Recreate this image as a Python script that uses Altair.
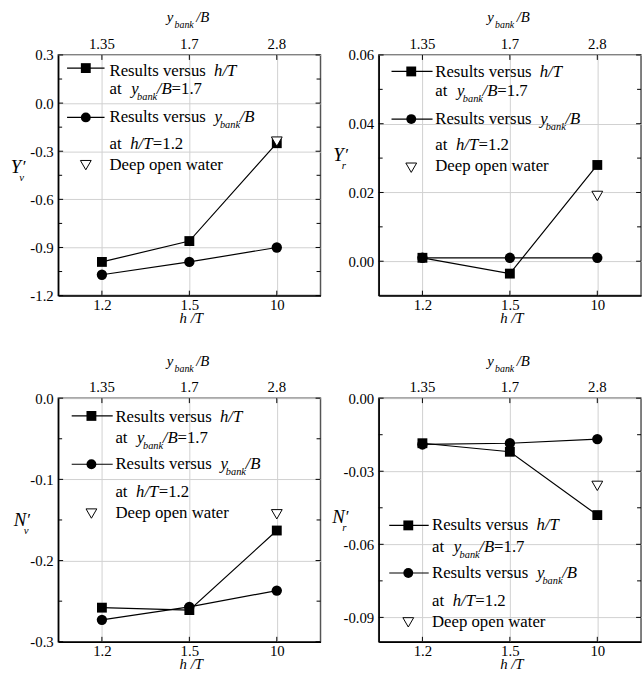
import altair as alt
import pandas as pd

# ---------------- data ----------------
h_cats = ["1.2", "1.5", "10"]
ybank_labels = ["1.35", "1.7", "2.8"]

Yv_sq = [-0.99, -0.86, -0.25]
Yv_ci = [-1.07, -0.99, -0.90]
Yv_deep = [-0.24]

Yr_sq = [0.001, -0.0036, 0.028]
Yr_ci = [0.001, 0.001, 0.001]
Yr_deep = [0.019]

Nv_sq = [-0.258, -0.261, -0.163]
Nv_ci = [-0.273, -0.257, -0.237]
Nv_deep = [-0.143]

Nr_sq = [-0.0185, -0.022, -0.048]
Nr_ci = [-0.019, -0.0185, -0.0168]
Nr_deep = [-0.036]

Yv_major = [-1.2, -0.9, -0.6, -0.3, 0.0, 0.3]
Yv_minor = [-1.05, -0.75, -0.45, -0.15, 0.15]
Yr_major = [0.0, 0.02, 0.04, 0.06]
Yr_minor = [0.01, 0.03, 0.05]
Nv_major = [-0.3, -0.2, -0.1, 0.0]
Nv_minor = [-0.25, -0.15, -0.05]
Nr_major = [-0.09, -0.06, -0.03, 0.0]
Nr_minor = [-0.075, -0.045, -0.015]

FONT = "'Liberation Serif', 'Times New Roman', Times, serif"
W = 266
dummy = pd.DataFrame({"d": [0]})


def txt(x, y, s, size=17, italic=False, align="left"):
    return alt.Chart(dummy).mark_text(
        text=s, font=FONT, fontSize=size,
        fontStyle="italic" if italic else "normal",
        align=align, baseline="alphabetic", color="black",
    ).encode(x=alt.value(x), y=alt.value(y))


def legend(lx1, lx2, mx, tx, rows):
    sq_y, t1, t2, ci_y, t3, t4, tri_y, t5 = rows
    L = []
    for yy, shape in [(sq_y, "square"), (ci_y, "circle")]:
        L.append(alt.Chart(dummy).mark_rule(color="black", strokeWidth=1.2).encode(
            x=alt.value(lx1), x2=alt.value(lx2), y=alt.value(yy)))
        L.append(alt.Chart(dummy).mark_point(shape=shape, filled=True, size=100, color="black", opacity=1).encode(
            x=alt.value(mx), y=alt.value(yy)))
    L.append(alt.Chart(dummy).mark_point(shape="triangle-down", filled=False, size=120, color="black",
                                         fill="white", fillOpacity=1, strokeWidth=1, opacity=1).encode(
        x=alt.value(mx), y=alt.value(tri_y)))
    # row 1
    L.append(txt(tx, t1, "Results versus"))
    L.append(txt(tx + 106, t1, "h/T", italic=True))
    # row 2
    L.append(txt(tx, t2, "at"))
    L.append(txt(tx + 22, t2, "y", italic=True))
    L.append(txt(tx + 28, t2 + 6, "bank", size=10.5, italic=True))
    L.append(txt(tx + 48, t2, "/B", italic=True))
    L.append(txt(tx + 63, t2, "=1.7"))
    # row 3
    L.append(txt(tx, t3, "Results versus"))
    L.append(txt(tx + 106.5, t3, "y", italic=True))
    L.append(txt(tx + 112, t3 + 6, "bank", size=10.5, italic=True))
    L.append(txt(tx + 132, t3, "/B", italic=True))
    # row 4
    L.append(txt(tx, t4, "at"))
    L.append(txt(tx + 21, t4, "h/T", italic=True))
    L.append(txt(tx + 44, t4, "=1.2"))
    # row 5
    L.append(txt(tx, t5, "Deep open water"))
    return L


def panel(sq, ci, deep, dom, major, minor, fmt, H, ylet, ysub, ypos, leg):
    df_sq = pd.DataFrame({"h": h_cats, "val": sq})
    df_ci = pd.DataFrame({"h": h_cats, "val": ci})
    df_tri = pd.DataFrame({"h": [h_cats[-1]], "val": deep})
    cats = pd.DataFrame({"h": h_cats, "top": ybank_labels})
    df_major = pd.DataFrame({"v": major})
    df_minor = pd.DataFrame({"v": minor})

    xsc = alt.Scale(type="point", padding=0.5, domain=h_cats)
    ysc = alt.Scale(domain=dom, nice=False, zero=False)
    yax = alt.Axis(values=major, grid=True, ticks=False, domain=True, title=None,
                   labelPadding=5,
                   labelExpr=f"replace(format(datum.value, '{fmt}'), '\u2212', '-')")
    xax = alt.Axis(orient="bottom", grid=True, ticks=False, domain=True, labelPadding=2,
                   labelAngle=0, title=None)

    def X():
        return alt.X("h:N", sort=h_cats, scale=xsc, axis=xax, title=None)

    def Y(field):
        return alt.Y(f"{field}:Q", scale=ysc, axis=yax, title=None)

    layers = []
    # bottom inward ticks
    layers.append(alt.Chart(cats).mark_rule(color="black", strokeWidth=1).encode(
        x=X(), y=alt.value(H), y2=alt.value(H - 5)))
    # top inward ticks
    layers.append(alt.Chart(cats).mark_rule(color="black", strokeWidth=1).encode(
        x=X(), y=alt.value(0), y2=alt.value(5)))
    # top tick labels
    layers.append(alt.Chart(cats).mark_text(font=FONT, fontSize=15, color="black",
                                            baseline="alphabetic", align="center").encode(
        x=X(), y=alt.value(-6), text="top:N"))
    # y ticks left/right
    for d, ln in [(df_major, 5), (df_minor, 4)]:
        layers.append(alt.Chart(d).mark_rule(color="black", strokeWidth=1).encode(
            y=Y("v"), x=alt.value(0), x2=alt.value(ln)))
        layers.append(alt.Chart(d).mark_rule(color="black", strokeWidth=1).encode(
            y=Y("v"), x=alt.value(W), x2=alt.value(W - ln)))
    # data
    for d in [df_sq, df_ci]:
        layers.append(alt.Chart(d).mark_line(color="black", strokeWidth=1.2).encode(
            x=X(), y=Y("val")))
    layers.append(alt.Chart(df_sq).mark_point(shape="square", filled=True, size=100,
                                              color="black", opacity=1).encode(x=X(), y=Y("val")))
    layers.append(alt.Chart(df_ci).mark_point(shape="circle", filled=True, size=110,
                                              color="black", opacity=1).encode(x=X(), y=Y("val")))
    layers.append(alt.Chart(df_tri).mark_point(shape="triangle-down", filled=False, size=120,
                                               color="black", fill="white", fillOpacity=1,
                                               strokeWidth=1, opacity=1).encode(x=X(), y=Y("val")))
    # legend
    layers += legend(*leg)
    # axis titles
    cx = W / 2
    layers.append(txt(cx + 2, H + 28, "h /T", size=15, italic=True, align="center"))
    layers.append(txt(cx - 23, -33, "y", size=15, italic=True))
    layers.append(txt(cx - 15, -27, "bank", size=10, italic=True))
    layers.append(txt(cx + 7, -33, "/B", size=15, italic=True))
    yx, yb, px_ = ypos
    layers.append(txt(yx, yb, ylet, size=19, italic=True))
    layers.append(txt(yx + px_, yb - 1, "\u2032", size=17, italic=True))
    layers.append(txt(yx + px_ - 2.5, yb + 8, ysub, size=11, italic=True))

    return alt.layer(*layers).properties(width=W, height=H)


p1 = panel(Yv_sq, Yv_ci, Yv_deep, [-1.2, 0.3], Yv_major, Yv_minor, ".1f", 244, "Y", "v", (-48, 120, 11),
           (9, 47, 28, 52, (13.3, 21, 40, 63.3, 68, 95, 111.7, 116.7)))
p2 = panel(Yr_sq, Yr_ci, Yr_deep, [-0.01, 0.06], Yr_major, Yr_minor, ".2f", 244, "Y", "r", (-46, 108, 11),
           (13, 54.6, 33, 57.3, (16.7, 22, 41.7, 65, 70, 96.7, 114.3, 118)))
p3 = panel(Nv_sq, Nv_ci, Nv_deep, [-0.3, 0.0], Nv_major, Nv_minor, ".1f", 247, "N", "v", (-45, 130, 12.5),
           (13.7, 55.3, 33.7, 58, (18, 23.7, 45.3, 67, 72, 100.3, 117, 122)))
p4 = panel(Nr_sq, Nr_ci, Nr_deep, [-0.1, 0.0], Nr_major, Nr_minor, ".2f", 247, "N", "r", (-47, 127, 12.5),
           (10.7, 50.7, 30, 54, (129, 134, 155.7, 177.3, 182.3, 210.7, 227.3, 232.3)))

chart = alt.concat(
    p1, p2, p3, p4, columns=2, spacing={"row": 26, "column": 9}
).properties(
    padding={"left": 10, "top": 5, "right": 0, "bottom": 0}
).configure_view(
    stroke="#555555", strokeWidth=1.5
).configure_axis(
    domainColor="black", domainWidth=1.5, gridColor="#d0d0d0", gridWidth=1,
    labelFont=FONT, labelFontSize=15, labelColor="black",
)

chart.save("out.html", embed_options={"renderer": "svg", "actions": False})
